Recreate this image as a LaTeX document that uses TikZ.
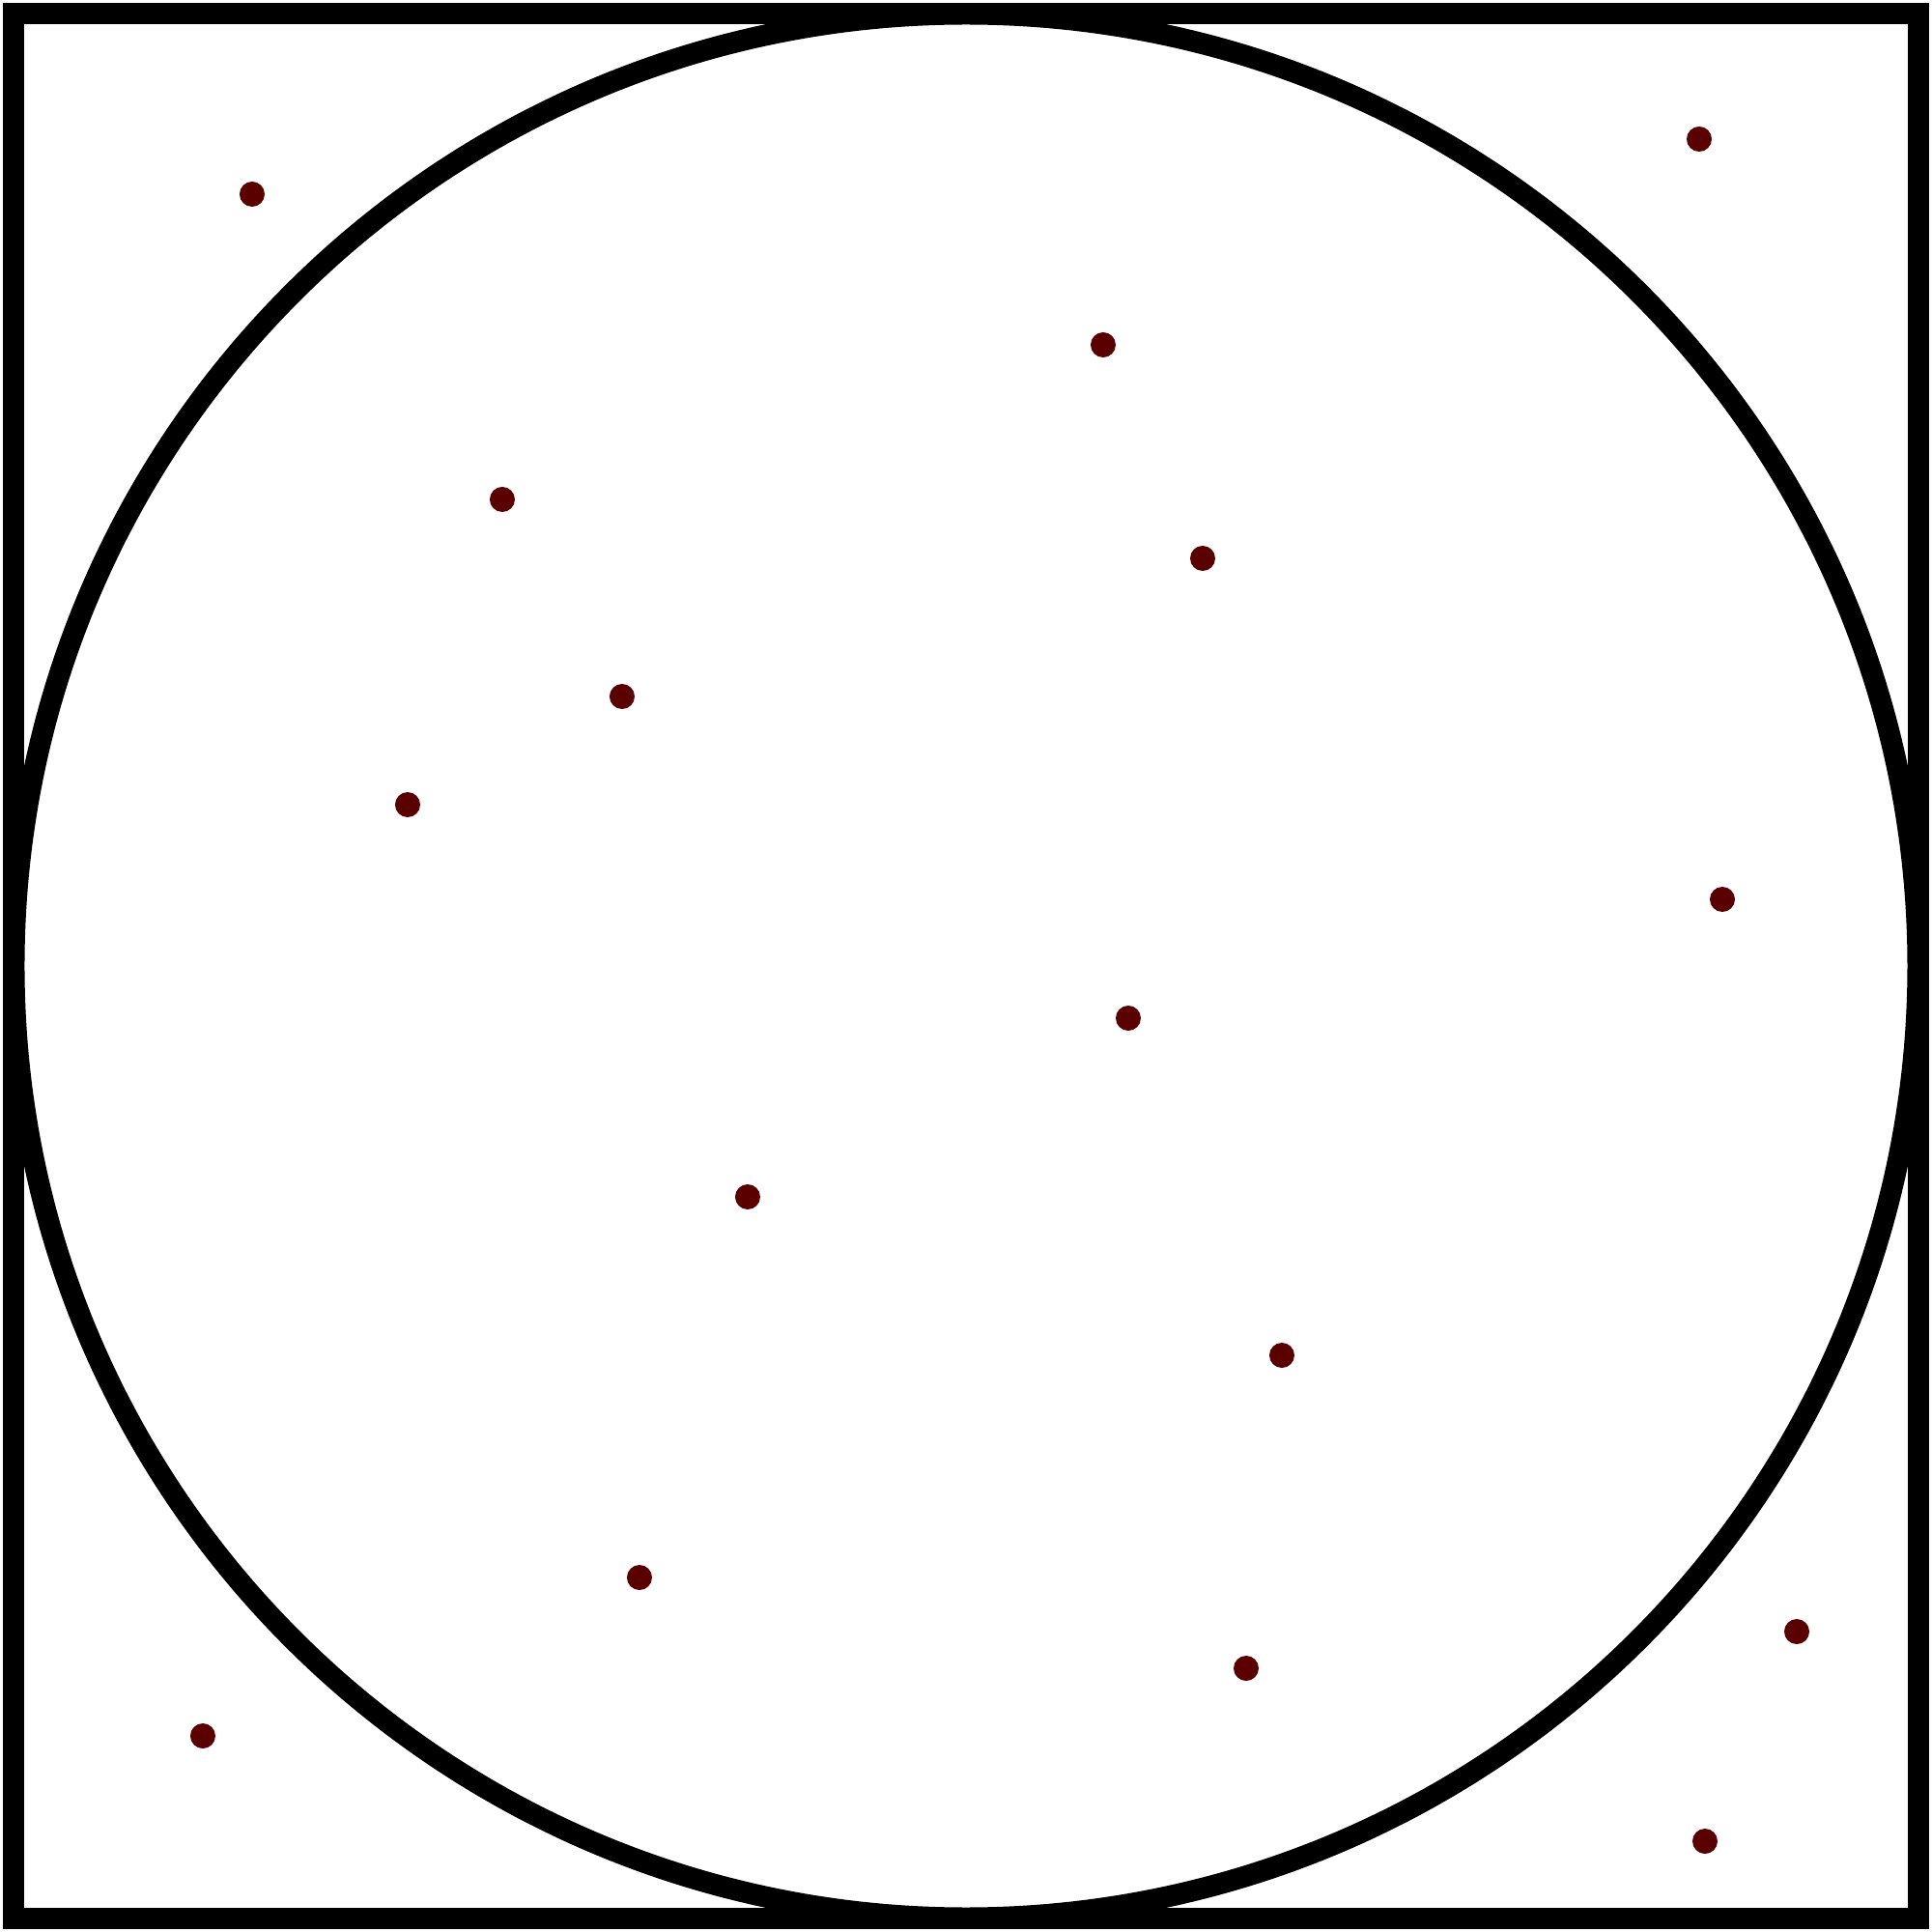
\documentclass[tikz,border=0pt]{standalone}
\usepackage{amsmath,amssymb}
\usepackage{tikz}
\definecolor{dotred}{HTML}{5A0000}

\begin{document}
\begin{tikzpicture}[every node/.style={circle,fill=dotred,inner sep=0pt,minimum size=0.26cm}]
    \useasboundingbox (-10,-10) rectangle (10,10);

    % square and inscribed circle
    \coordinate (o) at (0,0);
    \draw[line width=0.22cm] (-9.855,-9.855) rectangle (9.855,9.855);
    \draw[line width=0.22cm] (o) circle (9.855);

    % sample points
    \node (p1) at (-7.39, 7.99) {};
    \node (p2) at (7.59, 8.56) {};
    \node (p3) at (1.42, 6.43) {};
    \node (p4) at (-4.80, 4.83) {};
    \node (p5) at (2.45, 4.22) {};
    \node (p6) at (-3.56, 2.79) {};
    \node (p7) at (-5.78, 1.67) {};
    \node (p8) at (7.83, 0.69) {};
    \node (p9) at (1.68, -0.54) {};
    \node (p10) at (-2.26, -2.39) {};
    \node (p11) at (3.27, -4.03) {};
    \node (p12) at (-3.38, -6.33) {};
    \node (p13) at (8.60, -6.89) {};
    \node (p14) at (2.90, -7.27) {};
    \node (p15) at (-7.90, -7.97) {};
    \node (p16) at (7.65, -9.06) {};

\end{tikzpicture}
\end{document}
